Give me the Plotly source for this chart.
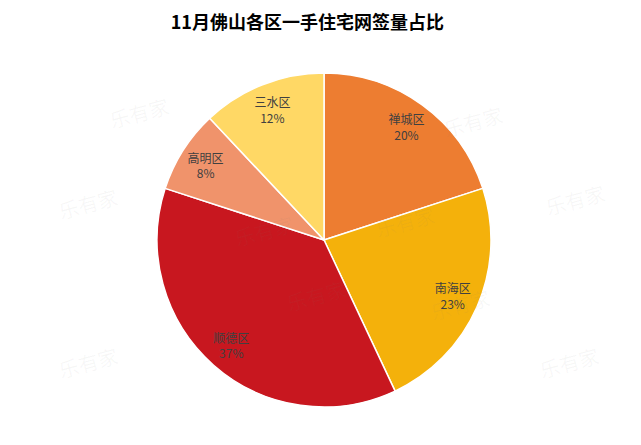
import plotly.graph_objects as go

districts = ["禅城区", "南海区", "顺德区", "高明区", "三水区"]
shares = [20, 23, 37, 8, 12]
colors = ["#ED7D31", "#F4B10B", "#C8171F", "#F0936B", "#FFD865"]
title_text = "11月佛山各区一手住宅网签量占比"

dom = dict(x=[0.2325, 0.7535], y=[0.1034, 0.854])

fig = go.Figure()
fig.add_trace(go.Pie(
    labels=districts, values=shares, sort=False, direction="clockwise", rotation=0,
    marker=dict(colors=colors, line=dict(color="white", width=1.5)),
    textinfo="none", hoverinfo="label+percent", domain=dom, showlegend=False,
))
fig.add_trace(go.Pie(
    labels=districts, values=shares, sort=False, direction="clockwise", rotation=0,
    hole=0.68,
    marker=dict(colors=["rgba(0,0,0,0)"] * len(shares), line=dict(width=0)),
    textinfo="label+percent", texttemplate="%{label}<br>%{percent:.0%}",
    textposition="inside", insidetextorientation="horizontal",
    textfont=dict(family="Noto Sans CJK SC", size=12, color="#404040"),
    hoverinfo="skip", domain=dom, showlegend=False,
))

# faint watermarks
wm = [(0.07, 0.56), (0.15, 0.82), (0.78, 0.80), (0.94, 0.57), (0.76, 0.28),
      (0.62, 0.52), (0.48, 0.30), (0.07, 0.15), (0.93, 0.15), (0.40, 0.50)]
for (x, y) in wm:
    fig.add_annotation(x=x, y=y, xref="paper", yref="paper", text="乐有家",
                       showarrow=False, textangle=-15,
                       font=dict(family="Noto Sans CJK SC", size=20, color="rgba(120,120,120,0.06)"))

fig.update_layout(
    width=641, height=445,
    margin=dict(l=0, r=0, t=0, b=0),
    paper_bgcolor="white", plot_bgcolor="white",
    title=dict(text="<b>" + title_text + "</b>", x=0.467, xanchor="center", y=0.967, yanchor="middle",
               font=dict(family="Noto Sans CJK SC", size=18, color="#000000")),
    uniformtext=dict(minsize=12, mode="show"),
)
fig.write_html("out.html")
